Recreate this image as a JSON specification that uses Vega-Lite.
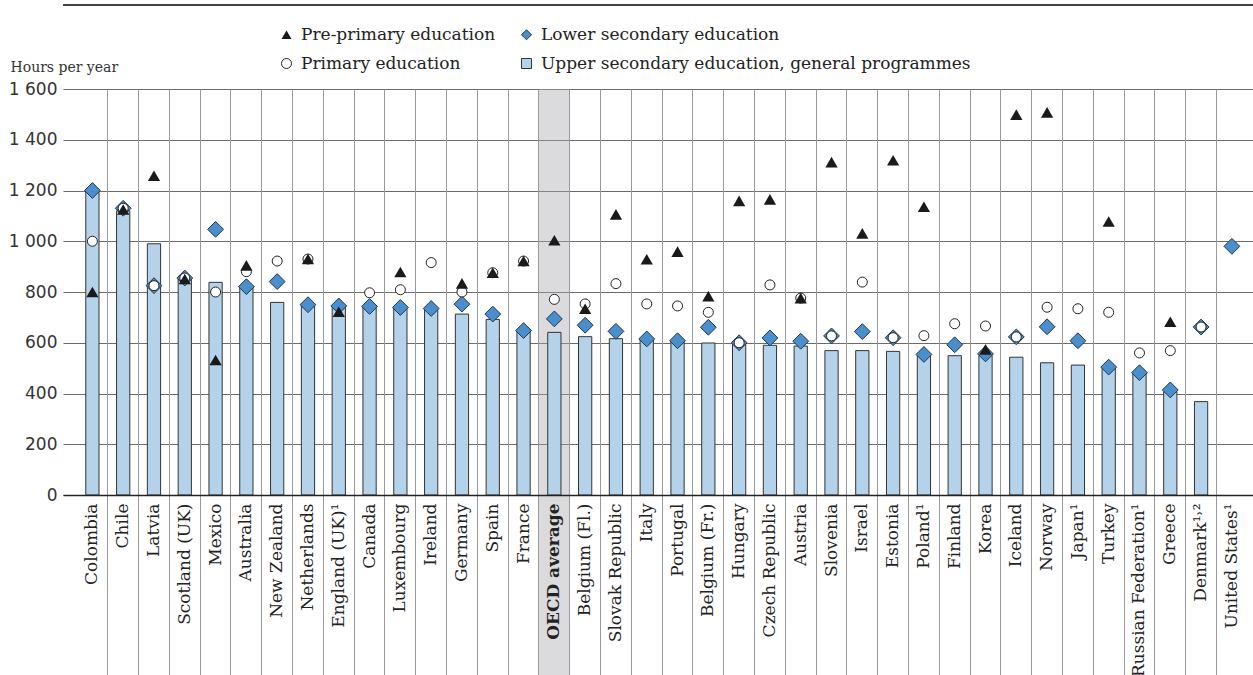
{
  "$schema": "https://vega.github.io/schema/vega-lite/v6.json",
  "autosize": "none",
  "width": 1190,
  "height": 406,
  "padding": {"left": 63, "top": 89, "right": 0, "bottom": 180},
  "background": "white",
  "config": {"view": {"stroke": null}, "font": "DejaVu Serif"},
  "datasets": {
    "teaching": [
      {"c": "Colombia", "pre": 800, "prim": 1000, "lower": 1200, "upper": 1200},
      {"c": "Chile", "pre": 1125, "prim": 1130, "lower": 1130, "upper": 1120},
      {"c": "Latvia", "pre": 1258, "prim": 825, "lower": 825, "upper": 990},
      {"c": "Scotland (UK)", "pre": 851, "prim": 855, "lower": 855, "upper": 851},
      {"c": "Mexico", "pre": 532, "prim": 800, "lower": 1047, "upper": 838},
      {"c": "Australia", "pre": 905, "prim": 880, "lower": 821, "upper": 818},
      {"c": "New Zealand", "pre": null, "prim": 922, "lower": 841, "upper": 759},
      {"c": "Netherlands", "pre": 930, "prim": 930, "lower": 750, "upper": 745},
      {"c": "England (UK)¹", "pre": 722, "prim": null, "lower": 745, "upper": 740},
      {"c": "Canada", "pre": null, "prim": 797, "lower": 743, "upper": 740},
      {"c": "Luxembourg", "pre": 879, "prim": 809, "lower": 739, "upper": 735},
      {"c": "Ireland", "pre": null, "prim": 916, "lower": 735, "upper": 730},
      {"c": "Germany", "pre": 834, "prim": 800, "lower": 752, "upper": 713},
      {"c": "Spain", "pre": 876, "prim": 876, "lower": 713, "upper": 692},
      {"c": "France", "pre": 922, "prim": 922, "lower": 648, "upper": 645},
      {"c": "OECD average", "pre": 1004, "prim": 771, "lower": 694, "upper": 641},
      {"c": "Belgium (Fl.)", "pre": 734, "prim": 753, "lower": 669, "upper": 624},
      {"c": "Slovak Republic", "pre": 1106, "prim": 833, "lower": 645, "upper": 616},
      {"c": "Italy", "pre": 929, "prim": 753, "lower": 615, "upper": 610},
      {"c": "Portugal", "pre": 959, "prim": 745, "lower": 608, "upper": 605},
      {"c": "Belgium (Fr.)", "pre": 783, "prim": 720, "lower": 661, "upper": 599},
      {"c": "Hungary", "pre": 1159, "prim": 600, "lower": 600, "upper": 597},
      {"c": "Czech Republic", "pre": 1165, "prim": 828, "lower": 619, "upper": 590},
      {"c": "Austria", "pre": 776, "prim": 776, "lower": 606, "upper": 587},
      {"c": "Slovenia", "pre": 1312, "prim": 627, "lower": 627, "upper": 569},
      {"c": "Israel", "pre": 1031, "prim": 839, "lower": 644, "upper": 569},
      {"c": "Estonia", "pre": 1319, "prim": 620, "lower": 620, "upper": 566},
      {"c": "Poland¹", "pre": 1136, "prim": 628, "lower": 554, "upper": 550},
      {"c": "Finland", "pre": null, "prim": 675, "lower": 592, "upper": 549},
      {"c": "Korea", "pre": 574, "prim": 666, "lower": 556, "upper": 550},
      {"c": "Iceland", "pre": 1499, "prim": 623, "lower": 623, "upper": 543},
      {"c": "Norway", "pre": 1508, "prim": 740, "lower": 663, "upper": 521},
      {"c": "Japan¹", "pre": null, "prim": 734, "lower": 608, "upper": 512},
      {"c": "Turkey", "pre": 1078, "prim": 720, "lower": 504, "upper": 500},
      {"c": "Russian Federation¹", "pre": null, "prim": 560, "lower": 482, "upper": 478},
      {"c": "Greece", "pre": 683, "prim": 569, "lower": 414, "upper": 407},
      {"c": "Denmark¹˒²", "pre": null, "prim": 662, "lower": 662, "upper": 368},
      {"c": "United States¹", "pre": null, "prim": null, "lower": 980, "upper": null}
    ]
  },
  "data": {"name": "teaching"},
  "transform": [
    {"fold": ["pre", "prim", "lower", "upper"], "as": ["series", "v"]},
    {"filter": "datum.v != null"}
  ],
  "layer": [
    {
      "data": {"values": [{"c": "OECD average"}]},
      "mark": {"type": "rect", "fill": "#a9a9ad", "opacity": 0.42, "clip": false},
      "encoding": {
        "x": {"field": "c", "type": "nominal"},
        "y": {"datum": 1600},
        "y2": {"datum": -715}
      }
    },
    {
      "data": {"values": [{}]},
      "mark": {"type": "rule", "color": "#444", "strokeWidth": 2},
      "encoding": {"y": {"datum": 1931}}
    },
    {
      "transform": [{"filter": "datum.series == 'upper'"}],
      "mark": {"type": "bar", "width": {"band": 0.43}, "stroke": "#333", "strokeWidth": 1},
      "encoding": {
        "x": {
          "field": "c", "type": "nominal", "sort": null,
          "scale": {
            "domain": ["Colombia", "Chile", "Latvia", "Scotland (UK)", "Mexico", "Australia", "New Zealand", "Netherlands", "England (UK)¹", "Canada", "Luxembourg", "Ireland", "Germany", "Spain", "France", "OECD average", "Belgium (Fl.)", "Slovak Republic", "Italy", "Portugal", "Belgium (Fr.)", "Hungary", "Czech Republic", "Austria", "Slovenia", "Israel", "Estonia", "Poland¹", "Finland", "Korea", "Iceland", "Norway", "Japan¹", "Turkey", "Russian Federation¹", "Greece", "Denmark¹˒²", "United States¹"],
            "paddingInner": 0, "paddingOuter": 0.32, "align": 0.71
          },
          "axis": {
            "title": null, "labelAngle": -90, "labelAlign": "right", "labelBaseline": "middle",
            "labelPadding": -172, "labelFont": "DejaVu Serif", "labelFontSize": 17, "labelColor": "#222",
            "labelLimit": 400, "labelOverlap": false,
            "labelFontWeight": {"condition": {"test": "datum.value === 'OECD average'", "value": "bold"}, "value": "normal"},
            "bandPosition": 0, "ticks": true, "tickSize": 180, "tickWidth": 1,
            "tickColor": {"condition": {"test": "datum.value === 'Colombia'", "value": "transparent"}, "value": "#9a9a9a"},
            "grid": true, "gridWidth": 1,
            "gridColor": {"condition": {"test": "datum.value === 'Colombia'", "value": "transparent"}, "value": "#9a9a9a"},
            "domain": true, "domainColor": "#222", "domainWidth": 1.5, "zindex": 1
          }
        },
        "y": {
          "field": "v", "type": "quantitative",
          "scale": {"domain": [0, 1600], "nice": false, "zero": true},
          "axis": {
            "title": "Hours per year", "titleAngle": 0, "titleAlign": "left", "titleBaseline": "alphabetic",
            "titleX": -53, "titleY": -18, "titleFont": "DejaVu Serif", "titleFontSize": 14,
            "titleFontWeight": "normal", "titleColor": "#333",
            "values": [0, 200, 400, 600, 800, 1000, 1200, 1400, 1600],
            "labelExpr": "replace(format(datum.value, ','), ',', ' ')",
            "labelFont": "DejaVu Sans", "labelFontSize": 17, "labelColor": "#333", "labelPadding": 6,
            "ticks": false, "domain": false, "grid": true, "gridColor": "#6b6b6b", "gridWidth": 1
          }
        },
        "fill": {
          "field": "series", "type": "nominal",
          "scale": {"domain": ["pre", "prim", "lower", "upper"], "range": ["#1a1a1a", "#ffffff", "#4a8fcb", "#b4d2ea"]}
        }
      }
    },
    {
      "transform": [{"filter": "datum.series == 'lower'"}],
      "mark": {"type": "point", "filled": true, "opacity": 1, "strokeWidth": 1},
      "encoding": {
        "x": {"field": "c", "type": "nominal", "sort": null},
        "y": {"field": "v", "type": "quantitative"},
        "fill": {
          "field": "series", "type": "nominal",
          "legend": {
            "orient": "none", "legendX": 215, "legendY": -63, "columns": 2, "columnPadding": 22,
            "rowPadding": 11, "title": null, "labelFont": "DejaVu Serif", "labelFontSize": 17,
            "labelColor": "#222", "labelOffset": 6, "symbolStrokeWidth": 1, "labelLimit": 600,
            "labelExpr": "datum.value == 'pre' ? 'Pre-primary education' : datum.value == 'lower' ? 'Lower secondary education' : datum.value == 'prim' ? 'Primary education' : 'Upper secondary education, general programmes'"
          }
        },
        "stroke": {
          "field": "series", "type": "nominal",
          "scale": {"domain": ["pre", "prim", "lower", "upper"], "range": ["transparent", "#222222", "#1f3550", "#333333"]}
        },
        "shape": {
          "field": "series", "type": "nominal",
          "scale": {"domain": ["pre", "prim", "lower", "upper"], "range": ["triangle-up", "circle", "diamond", "square"]}
        },
        "size": {
          "field": "series", "type": "nominal",
          "scale": {"type": "point", "domain": ["prim", "pre", "upper", "lower"], "range": [100, 250], "padding": 0}
        }
      }
    },
    {
      "transform": [{"filter": "datum.series == 'prim'"}],
      "mark": {"type": "point", "filled": true, "opacity": 1, "strokeWidth": 1},
      "encoding": {
        "x": {"field": "c", "type": "nominal", "sort": null},
        "y": {"field": "v", "type": "quantitative"},
        "fill": {"field": "series", "type": "nominal"},
        "stroke": {"field": "series", "type": "nominal"},
        "shape": {"field": "series", "type": "nominal"},
        "size": {"field": "series", "type": "nominal"}
      }
    },
    {
      "transform": [{"filter": "datum.series == 'pre'"}],
      "mark": {"type": "point", "filled": true, "opacity": 1, "strokeWidth": 1},
      "encoding": {
        "x": {"field": "c", "type": "nominal", "sort": null},
        "y": {"field": "v", "type": "quantitative"},
        "fill": {"field": "series", "type": "nominal"},
        "stroke": {"field": "series", "type": "nominal"},
        "shape": {"field": "series", "type": "nominal"},
        "size": {"field": "series", "type": "nominal"}
      }
    }
  ]
}
